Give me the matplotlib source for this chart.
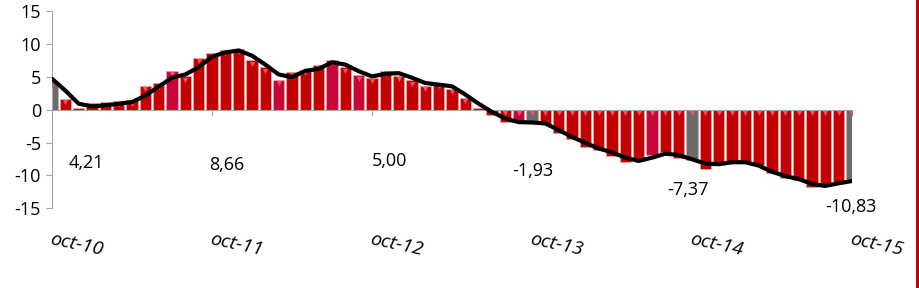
import numpy as np
import matplotlib
matplotlib.use("Agg")
import matplotlib.pyplot as plt
import matplotlib.transforms as mtransforms

plt.rcParams['font.family'] = ['Open Sans', 'DejaVu Sans']
plt.rcParams['axes.unicode_minus'] = False

# monthly values, oct-10 .. oct-15
bar_values = [4.3, 1.65, 0.3, 1.05, 1.1, 1.3, 1.4, 3.6, 4.0, 5.85,
              5.05, 7.9, 8.6, 9.1, 9.25, 7.5, 6.45, 4.55, 5.8, 6.05,
              6.8, 7.6, 6.45, 5.2, 4.85, 5.85, 5.1, 4.45, 3.6, 4.05,
              3.2, 1.75, 0.3, -0.75, -1.9, -1.9, -1.9, -2.2, -3.6, -4.4,
              -5.65, -6.2, -7.0, -7.9, -7.5, -6.9, -6.4, -7.3, -7.7, -8.95,
              -8.2, -8.0, -7.8, -8.45, -9.7, -10.35, -10.7, -11.8, -11.45, -10.95,
              -10.9]
trend_values = [4.7, 2.9, 0.9, 0.5, 0.65, 0.9, 1.15, 2.15, 3.5, 4.85,
                5.35, 6.45, 8.05, 8.7, 9.0, 8.2, 6.85, 5.35, 4.95, 5.9,
                6.2, 7.2, 6.85, 5.85, 5.05, 5.45, 5.55, 4.85, 4.05, 3.8,
                3.55, 2.3, 0.9, -0.35, -1.35, -1.9, -1.95, -2.1, -3.1, -4.15,
                -5.05, -5.9, -6.5, -7.3, -7.8, -7.3, -6.7, -6.9, -7.55, -8.2,
                -8.3, -8.0, -8.0, -8.5, -9.45, -10.1, -10.55, -11.3, -11.6, -11.2,
                -10.85]
crimson_bars = [9, 17, 21, 23, 35, 45]
gray_bars = [0, 36, 48, 60]

tick_labels = ['oct-10', 'oct-11', 'oct-12', 'oct-13', 'oct-14', 'oct-15']
annual_labels = ['4,21', '8,66', '5,00', '-1,93', '-7,37', '-10,83']
annual_pos = [(2.6, -8.1), (13.1, -8.4), (25.3, -7.8), (36.1, -9.3), (47.7, -12.2), (59.9, -14.8)]

x = np.arange(len(bar_values))
vals = np.array(bar_values)
colors = []
for i in x:
    if i in gray_bars:
        colors.append('#6b6b6b')
    elif i in crimson_bars:
        colors.append('#c8063a')
    else:
        colors.append('#c40000')

fig = plt.figure(figsize=(9.2, 2.88), dpi=100)
ax = fig.add_axes([52/920, 1 - 208.3/288, 800/920, 197.3/288])

ax.bar(x, vals, width=0.87, color=colors, edgecolor='#d9b0b0', linewidth=0.5, zorder=2)
# small lighter triangle at the upper end of each bar
marker_y = np.where(vals > 0.8, vals - 0.5, np.where(vals < -0.8, -0.5, np.nan))
ax.scatter(x, marker_y, marker='v', s=14, color='#f0506a', linewidths=0, zorder=3)
ax.plot(x, trend_values, color='black', lw=3.0, solid_capstyle='round', zorder=4)

ax.set_xlim(0, 60)
ax.set_ylim(-15, 15)
ax.set_yticks(np.arange(-15, 16, 5))
ax.set_yticklabels([str(v) for v in range(-15, 16, 5)], fontsize=13)
ax.set_xticks(np.arange(0, 61, 12))
ax.set_xticklabels([])

for s in ['top', 'right']:
    ax.spines[s].set_visible(False)
ax.spines['bottom'].set_position(('data', 0))
ax.spines['bottom'].set_color('#a6a6a6')
ax.spines['left'].set_color('#a6a6a6')
ax.tick_params(axis='y', length=4, width=0.8, color='#a6a6a6', pad=4)
ax.tick_params(axis='x', length=4, width=0.8, color='#a6a6a6', direction='out')

trans = mtransforms.blended_transform_factory(ax.transData, ax.transAxes)
for pos, lab in zip(np.arange(0, 61, 12), tick_labels):
    ax.annotate(lab, xy=(pos, 0), xycoords=trans, xytext=(0, -16), textcoords='offset points',
                ha='left', va='top', rotation=-12, rotation_mode='anchor',
                fontsize=14, fontstyle='italic', annotation_clip=False)

for (px, py), lab in zip(annual_pos, annual_labels):
    ax.text(px, py, lab, ha='center', va='center', fontsize=13, clip_on=False)

fig.add_artist(plt.Line2D([917.5/920, 917.5/920], [0, 1], color='#c00000', lw=2.2))

fig.savefig('out.png', dpi=100)
